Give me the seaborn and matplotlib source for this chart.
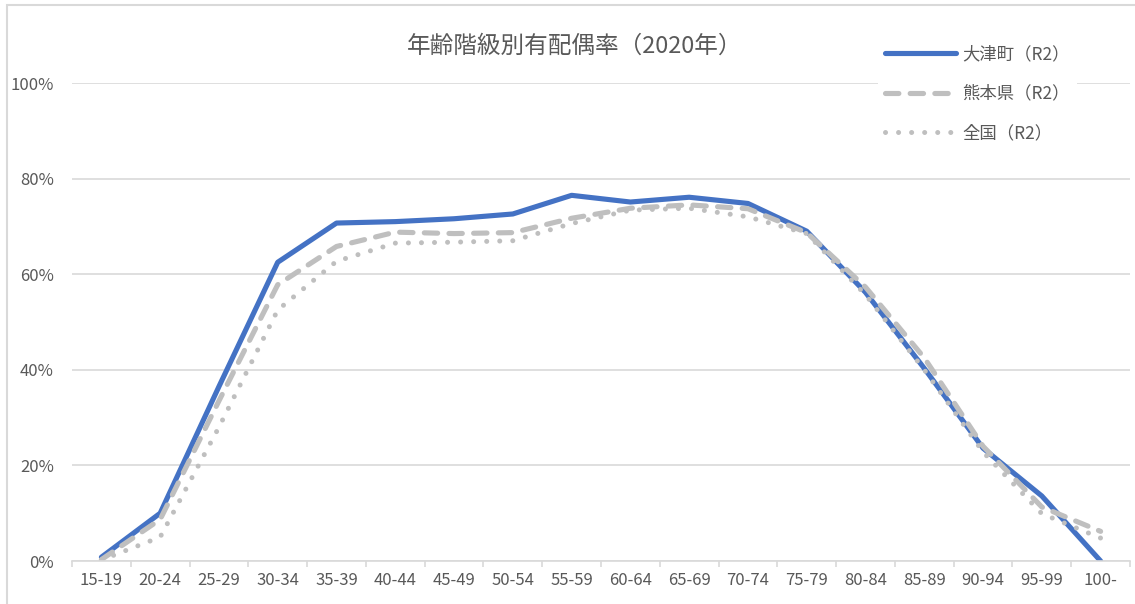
import numpy as np
import pandas as pd
import seaborn as sns
import matplotlib.pyplot as plt
from matplotlib.patches import Rectangle
from matplotlib.ticker import FixedLocator, PercentFormatter

# 年齢階級
ages = ["15-19", "20-24", "25-29", "30-34", "35-39", "40-44", "45-49", "50-54", "55-59",
        "60-64", "65-69", "70-74", "75-79", "80-84", "85-89", "90-94", "95-99", "100-"]

# 有配偶率 (0-1)
ozu = [0.008, 0.100, 0.365, 0.625, 0.707, 0.710, 0.716, 0.726, 0.765,
       0.751, 0.761, 0.748, 0.690, 0.562, 0.403, 0.236, 0.136, 0.0]
kumamoto = [0.003, 0.087, 0.335, 0.578, 0.658, 0.688, 0.685, 0.687, 0.717,
            0.738, 0.745, 0.737, 0.687, 0.573, 0.425, 0.240, 0.113, 0.062]
zenkoku = [0.002, 0.050, 0.280, 0.525, 0.627, 0.665, 0.667, 0.670, 0.706,
           0.734, 0.738, 0.720, 0.685, 0.557, 0.400, 0.228, 0.099, 0.048]

series_names = ["大津町（R2）", "熊本県（R2）", "全国（R2）"]

W, H = 1135, 604
TXT = "#595959"
GRID = "#D9D9D9"

sns.set_theme(style="white")
plt.rcParams["font.family"] = ["Noto Sans CJK JP", "DejaVu Sans"]

fig = plt.figure(figsize=(W / 100, H / 100), dpi=100)
ax = fig.add_axes([72 / W, 1 - 561 / H, (1130 - 72) / W, (561 - 83) / H])

df = pd.DataFrame({"age": ages * 3,
                   "rate": ozu + kumamoto + zenkoku,
                   "series": [series_names[0]] * len(ages) + [series_names[1]] * len(ages)
                   + [series_names[2]] * len(ages)})

styles = {
    series_names[0]: dict(color="#4472C4", lw=3.7, ls="-", solid_capstyle="round"),
    series_names[1]: dict(color="#BFBFBF", lw=3.7, ls=(0, (2.6, 2.2)), dash_capstyle="round"),
    series_names[2]: dict(color="#BFBFBF", lw=3.6, ls=(0, (0.01, 2.6)), dash_capstyle="round"),
}
for name in series_names:
    sub = df[df["series"] == name]
    sns.lineplot(data=sub, x="age", y="rate", ax=ax, label=name, sort=False, **styles[name])

ax.set_xlim(-0.5, len(ages) - 0.5)
ax.set_ylim(0, 1.0)
ax.yaxis.set_major_locator(FixedLocator(np.arange(0, 1.01, 0.2)))
ax.yaxis.set_major_formatter(PercentFormatter(1.0, decimals=0))
ax.xaxis.set_minor_locator(FixedLocator(np.arange(-0.5, len(ages), 1.0)))
ax.grid(axis="y", color=GRID, lw=1.2)
ax.grid(axis="x", visible=False)
ax.set_xlabel("")
ax.set_ylabel("")
for s in ["top", "right", "left"]:
    ax.spines[s].set_visible(False)
ax.spines["bottom"].set_color(GRID)
ax.spines["bottom"].set_linewidth(1.2)
ax.tick_params(axis="y", length=0, pad=13, labelsize=12, labelcolor=TXT)
ax.tick_params(axis="x", which="major", length=0, pad=8, labelsize=12, labelcolor=TXT)
ax.tick_params(axis="x", which="minor", bottom=True, length=4, width=1.2, color=GRID)

fig.text(575 / W, 1 - 46 / H, "年齢階級別有配偶率（2020年）", ha="center", va="center",
         fontsize=17, color=TXT)

leg = ax.legend(loc="upper left", bbox_to_anchor=(878 / W, 1 - 38 / H),
                bbox_transform=fig.transFigure, frameon=True, fancybox=False,
                facecolor="white", edgecolor="none", framealpha=1,
                fontsize=12.5, labelspacing=1.25, handlelength=4.1, handletextpad=0.35,
                borderpad=0.4, borderaxespad=0)
for t in leg.get_texts():
    t.set_color(TXT)

fig.patches.append(Rectangle((7 / W, -0.1), 1.2, 1.1 - 5 / H, transform=fig.transFigure,
                             fill=False, edgecolor=GRID, lw=1.5))

fig.savefig("out.png", dpi=100)
